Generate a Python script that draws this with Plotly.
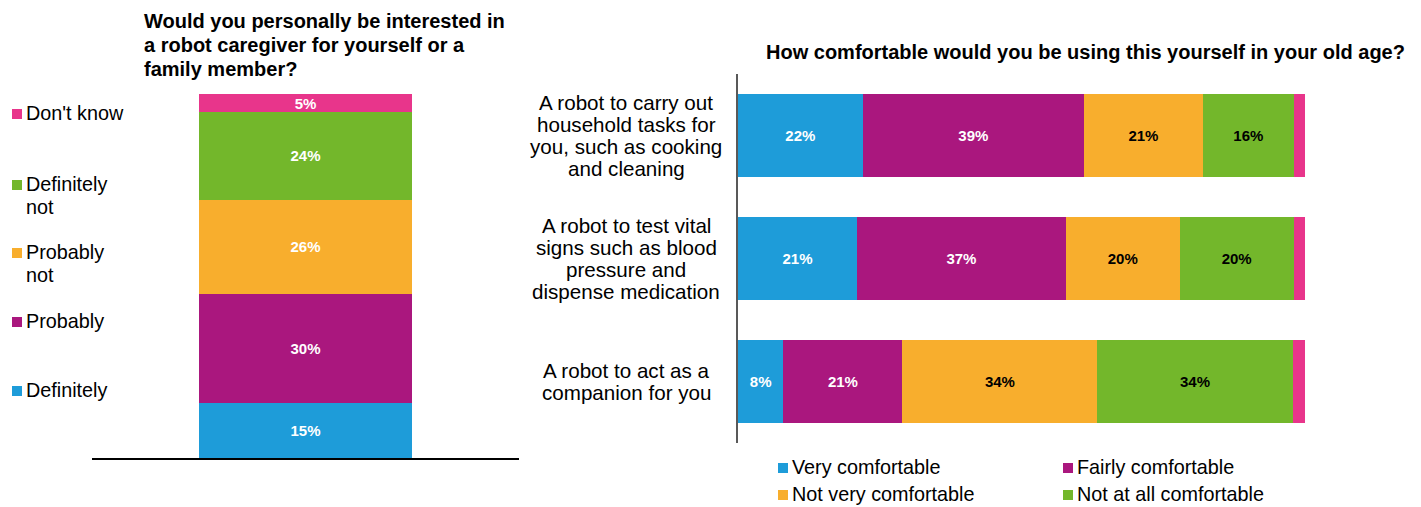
import plotly.graph_objects as go

# the page body has an 8px margin, so the figure is 8px smaller and all
# reference pixel positions are shifted by that offset
OFF = 8
W, H = 1421 - OFF, 507 - OFF
FONT = "Liberation Sans, Arial, sans-serif"

# ---------------- data ----------------
interest_cats = ["Definitely", "Probably", "Probably not", "Definitely not", "Don't know"]
interest_vals = [15, 30, 26, 24, 5]
interest_legend_lines = [["Don't know"], ["Definitely", "not"], ["Probably", "not"], ["Probably"], ["Definitely"]]
interest_legend_order = ["Don't know", "Definitely not", "Probably not", "Probably", "Definitely"]

comfort_items = [
    "A robot to carry out household tasks for you, such as cooking and cleaning",
    "A robot to test vital signs such as blood pressure and dispense medication",
    "A robot to act as a companion for you",
]
comfort_item_lines = [
    ["A robot to carry out", "household tasks for", "you, such as cooking", "and cleaning"],
    ["A robot to test vital", "signs such as blood", "pressure and", "dispense medication"],
    ["A robot to act as a", "companion for you"],
]
comfort_series = ["Very comfortable", "Fairly comfortable", "Not very comfortable",
                  "Not at all comfortable", "Don't know"]
very_comfortable = [22, 21, 8]
fairly_comfortable = [39, 36.8, 21]
not_very_comfortable = [21, 20.1, 34.4]
not_at_all_comfortable = [16, 20.1, 34.4]
comfort_dont_know = [2, 2, 2.2]

left_title_lines = ["Would you personally be interested in",
                    "a robot caregiver for yourself or a",
                    "family member?"]
right_title = "How comfortable would you be using this yourself in your old age?"

# ---------------- styles ----------------
BLUE, PURPLE, ORANGE, GREEN, PINK = "#1e9cd9", "#aa177e", "#f8ae2d", "#73b72b", "#e8358b"
interest_colors = {"Definitely": BLUE, "Probably": PURPLE, "Probably not": ORANGE,
                   "Definitely not": GREEN, "Don't know": PINK}
comfort_colors = [BLUE, PURPLE, ORANGE, GREEN, PINK]
comfort_text_colors = ["white", "white", "black", "black", "white"]


def px_x(p):
    return (p - OFF) / W


def px_y(p):
    return 1 - (p - OFF) / H


fig = go.Figure()

# left stacked column
for cat, val in zip(interest_cats, interest_vals):
    fig.add_trace(go.Bar(
        x=["interest"], y=[val], name=cat, width=0.5,
        marker=dict(color=interest_colors[cat], line=dict(width=0)),
        text=[f"{val}%"], textposition="inside", insidetextanchor="middle",
        constraintext="none",
        textfont=dict(family=FONT, size=15, color="white", weight="bold"),
        xaxis="x", yaxis="y", showlegend=False, hoverinfo="skip",
    ))

# right stacked bars
comfort_values = [very_comfortable, fairly_comfortable, not_very_comfortable,
                  not_at_all_comfortable, comfort_dont_know]
for i, (name, vals) in enumerate(zip(comfort_series, comfort_values)):
    labels = [f"{v:.0f}%" for v in vals] if name != "Don't know" else ["" for _ in vals]
    fig.add_trace(go.Bar(
        y=comfort_items, x=vals, name=name, orientation="h", width=0.68,
        marker=dict(color=comfort_colors[i], line=dict(width=0)),
        text=labels, textposition="inside", insidetextanchor="middle",
        constraintext="none",
        textfont=dict(family=FONT, size=15, color=comfort_text_colors[i], weight="bold"),
        xaxis="x2", yaxis="y2", showlegend=False, hoverinfo="skip",
    ))

annotations = []
shapes = []

# left title
for k, line in enumerate(left_title_lines):
    annotations.append(dict(
        text=line, xref="paper", yref="paper", x=px_x(142), y=px_y(21 + 24 * k),
        xanchor="left", yanchor="middle", showarrow=False,
        font=dict(family=FONT, size=20, color="black", weight="bold")))

# right title
annotations.append(dict(
    text=right_title, xref="paper", yref="paper", x=px_x(1085), y=px_y(52),
    xanchor="center", yanchor="middle", showarrow=False,
    font=dict(family=FONT, size=20, color="black", weight="bold")))

# category labels (centred multi-line, tied to the categorical axis)
for item, lines in zip(comfort_items, comfort_item_lines):
    n = len(lines)
    for k, line in enumerate(lines):
        off = (k - (n - 1) / 2) * 22
        annotations.append(dict(
            text=line, xref="paper", yref="y2", x=px_x(626), y=item, yshift=-off,
            xanchor="center", yanchor="middle", showarrow=False,
            font=dict(family=FONT, size=20.6, color="black")))

# left legend
left_legend_y = [113, 184, 252, 321, 390]
for name, lines, yy in zip(interest_legend_order, interest_legend_lines, left_legend_y):
    shapes.append(dict(type="rect", xref="paper", yref="paper",
                       x0=px_x(12), x1=px_x(22), y0=px_y(yy + 6), y1=px_y(yy - 4),
                       fillcolor=interest_colors[name], line=dict(width=0)))
    for k, line in enumerate(lines):
        annotations.append(dict(
            text=line, xref="paper", yref="paper", x=px_x(24), y=px_y(yy + 23 * k),
            xanchor="left", yanchor="middle", showarrow=False,
            font=dict(family=FONT, size=19.8, color="black")))

# right legend (2 x 2)
legend_pos = [(778, 467), (1063, 467), (778, 494), (1063, 494)]
for name, col, (lx, ly) in zip(comfort_series[:4], comfort_colors[:4], legend_pos):
    shapes.append(dict(type="rect", xref="paper", yref="paper",
                       x0=px_x(lx), x1=px_x(lx + 10), y0=px_y(ly + 6), y1=px_y(ly - 4),
                       fillcolor=col, line=dict(width=0)))
    annotations.append(dict(
        text=name, xref="paper", yref="paper", x=px_x(lx + 12), y=px_y(ly),
        xanchor="left", yanchor="middle", showarrow=False,
        font=dict(family=FONT, size=19.8, color="black")))

fig.update_layout(
    width=W, height=H,
    margin=dict(l=0, r=0, t=0, b=0),
    paper_bgcolor="white", plot_bgcolor="white",
    barmode="stack",
    showlegend=False,
    font=dict(family=FONT, color="black"),
    xaxis=dict(domain=[px_x(92), px_x(519)], showline=True, linecolor="black", linewidth=2,
               showticklabels=False, ticks="", showgrid=False, zeroline=False, fixedrange=True),
    yaxis=dict(domain=[px_y(458), px_y(94)], range=[0, 100], visible=False,
               showgrid=False, zeroline=False),
    xaxis2=dict(domain=[px_x(738), px_x(1305)], range=[0, 100], visible=False,
                showgrid=False, zeroline=False, anchor="y2"),
    yaxis2=dict(domain=[px_y(443), px_y(74)], autorange="reversed", anchor="x2",
                showline=True, linecolor="#595959", linewidth=2, showticklabels=False,
                ticks="", showgrid=False, zeroline=False),
    annotations=annotations,
    shapes=shapes,
)

fig.write_html("out.html")
